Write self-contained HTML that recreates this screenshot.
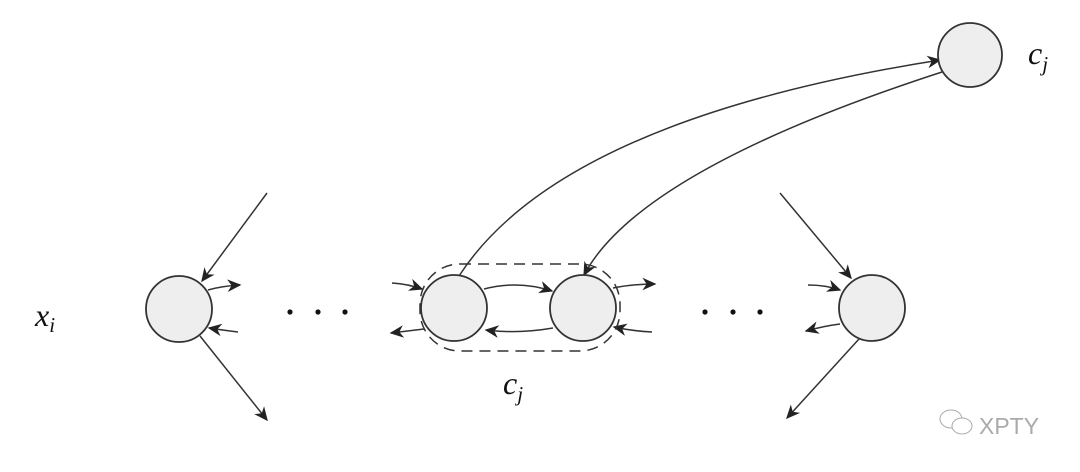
<!DOCTYPE html>
<html><head><style>
html,body{margin:0;padding:0;background:#fff;}
</style></head><body>
<svg width="1080" height="467" viewBox="0 0 1080 467" xmlns="http://www.w3.org/2000/svg">
<defs>
<marker id="a" viewBox="0 0 10 10" refX="9" refY="5" markerWidth="14" markerHeight="14" markerUnits="userSpaceOnUse" orient="auto">
<path d="M0,0.5 L10,5 L0,9.5 L3,5 Z" fill="#222"/>
</marker>
</defs>
<g stroke="#333" stroke-width="1.5" fill="none" marker-end="url(#a)">
<line x1="267" y1="193" x2="202" y2="281"/>
<path d="M208,290 Q222,286 240,285"/>
<path d="M238,332 Q222,330 209,328"/>
<line x1="200" y1="336" x2="267" y2="420"/>
<path d="M392,283 Q408,284 422,289"/>
<path d="M424,329 Q408,331 391,333"/>
<path d="M484,289 Q518,280 552,291"/>
<path d="M553,328 Q518,334 486,330"/>
<path d="M613,288 Q632,284 655,284"/>
<path d="M652,332 Q632,331 614,327"/>
<line x1="780" y1="193" x2="851" y2="278"/>
<path d="M808,285 Q826,285 840,290"/>
<path d="M840,324 Q824,326 806,331"/>
<line x1="859" y1="339" x2="787" y2="418"/>
<path d="M459,276 Q560,120 940,60"/>
<path d="M942,72 Q640,170 584,275"/>
</g>
<rect x="420" y="264" width="200" height="87" rx="40" ry="40" fill="none" stroke="#333" stroke-width="1.5" stroke-dasharray="11,7"/>
<g fill="#eeeeee" stroke="#333" stroke-width="1.8">
<circle cx="179" cy="309" r="33"/>
<circle cx="454" cy="308" r="33"/>
<circle cx="583" cy="308" r="33"/>
<circle cx="872" cy="308" r="33"/>
<circle cx="970" cy="55" r="32"/>
</g>
<g fill="#111">
<circle cx="290" cy="312" r="2.6"/><circle cx="318" cy="312" r="2.6"/><circle cx="345" cy="312" r="2.6"/>
<circle cx="705" cy="312" r="2.6"/><circle cx="733" cy="312" r="2.6"/><circle cx="760" cy="312" r="2.6"/>
</g>
<g font-family="Liberation Serif, serif" font-style="italic" font-size="32" fill="#111">
<text x="35" y="326">x<tspan font-size="21" dy="6">i</tspan></text>
<text x="1028" y="64">c<tspan font-size="21" dy="7">j</tspan></text>
<text x="503" y="394">c<tspan font-size="21" dy="7">j</tspan></text>
</g>
<g stroke="#aaa" stroke-width="1" fill="#fff">
<ellipse cx="951" cy="419" rx="11" ry="9"/>
<ellipse cx="962" cy="426" rx="10" ry="8"/>
</g>
<text x="979" y="434" font-family="Liberation Sans, sans-serif" font-size="23" fill="#aaa">XPTY</text>
</svg>
</body></html>
